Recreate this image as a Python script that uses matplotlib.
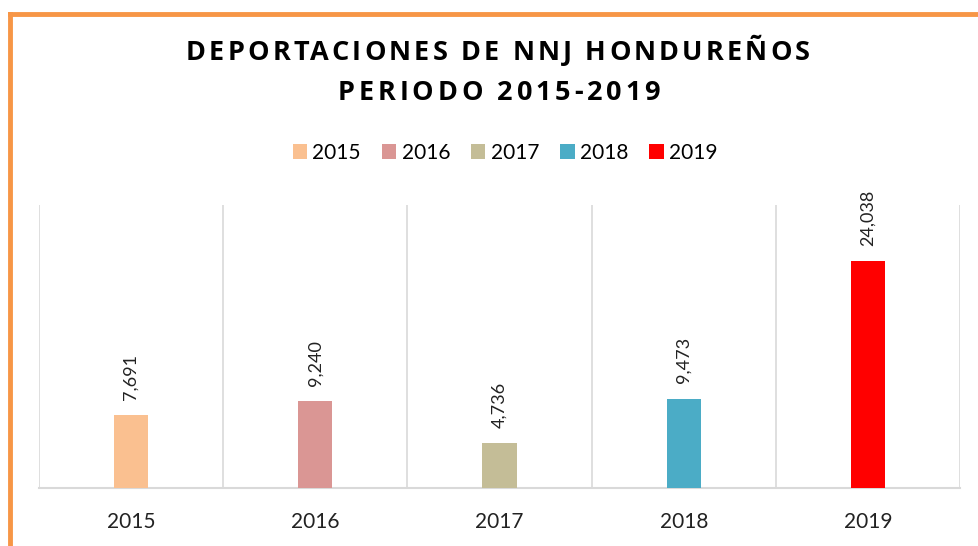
import matplotlib.pyplot as plt
from matplotlib.lines import Line2D
from matplotlib.patches import Patch

years = ["2015", "2016", "2017", "2018", "2019"]
deportaciones = [7691, 9240, 4736, 9473, 24038]
colores = ["#FAC090", "#DA9694", "#C4BD97", "#4BACC6", "#FF0000"]

titulo = ["DEPORTACIONES DE NNJ HONDUREÑOS", "PERIODO 2015-2019"]

W, H = 979, 546


def spaced_text(fig, s, xc, y, spacing, **kw):
    # draw a title with extra letter spacing, one glyph at a time
    r = fig.canvas.get_renderer()

    def width(t):
        tt = fig.text(0, 0, t, **kw)
        w = tt.get_window_extent(renderer=r).width
        tt.remove()
        return w

    total = width(s) + (len(s) - 1) * spacing
    left = xc - total / 2
    for i, ch in enumerate(s):
        if ch == " ":
            continue
        x0 = width(s[:i + 1]) - width(ch) + i * spacing
        fig.text((left + x0) / W, y, ch, ha="left", va="center", **kw)


def main():
    fig = plt.figure(figsize=(W / 100, H / 100), dpi=100)
    ax = fig.add_axes([39 / W, 58 / H, 921 / W, 283 / H])

    x = range(len(years))
    ax.bar(x, deportaciones, width=0.185, color=colores, zorder=3)

    for xi, v in zip(x, deportaciones):
        ax.annotate(f"{v:,}", (xi, v), xytext=(0, 11), textcoords="offset points",
                    rotation=90, ha="center", va="bottom", fontsize=13,
                    family="Lato", color="#222222")

    # vertical separators between categories
    for b in [i - 0.5 for i in range(len(years) + 1)]:
        ax.axvline(b, color="#D9D9D9", lw=1.2, zorder=1)

    ax.set_xlim(-0.5, len(years) - 0.5)
    ax.set_ylim(0, 30000)
    ax.set_xticks(list(x))
    ax.set_xticklabels(years, fontsize=15, family="Lato", color="#222222")
    ax.tick_params(axis="x", length=0, pad=17)
    ax.set_yticks([])
    for s in ["top", "right", "left"]:
        ax.spines[s].set_visible(False)
    ax.spines["bottom"].set_color("#D9D9D9")
    ax.spines["bottom"].set_linewidth(1.5)

    # title
    tkw = dict(fontsize=19.5, fontweight="bold", family="Open Sans", color="black")
    spaced_text(fig, titulo[0], 498, 1 - 53 / H, 3.15, **tkw)
    spaced_text(fig, titulo[1], 499, 1 - 93 / H, 3.8, **tkw)

    # legend
    handles = [Patch(facecolor=c, edgecolor="none") for c in colores]
    fig.legend(handles, years, loc="center", bbox_to_anchor=(505 / W, 1 - 153 / H),
               ncol=5, frameon=False, prop={"family": "Lato", "size": 15},
               handlelength=0.7, handleheight=0.7, handletextpad=0.25, columnspacing=1.0)

    # orange frame (top and left edges visible)
    fig.add_artist(Line2D([10 / W, 1.0], [1 - 14 / H, 1 - 14 / H],
                          transform=fig.transFigure, color="#F79646", lw=3.5))
    fig.add_artist(Line2D([10 / W, 10 / W], [0.0, 1 - 14 / H],
                          transform=fig.transFigure, color="#F79646", lw=3.5,
                          solid_capstyle="projecting"))

    fig.savefig("out.png", dpi=100)


if __name__ == "__main__":
    main()
